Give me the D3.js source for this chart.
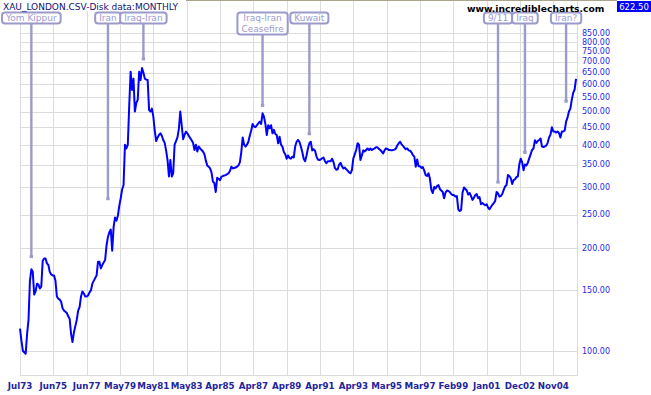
<!DOCTYPE html>
<html><head><meta charset="utf-8">
<script src="https://cdn.jsdelivr.net/npm/d3@7"></script>
<style>body{margin:0;background:#fff}svg{display:block}</style>
</head><body>
<svg id="c" width="651" height="395"></svg>
<script>
// Monthly gold close (XAU London), starting Jul 1973
const startMonth = "1973-07";
const gold = [
  116,107,100,99,98,112,
  123,160,173,170,146,149,157,156,152,154,183,186,
  186,180,178,170,167,166,166,160,144,142,141,139,
  133,131,130,129,126,124,112,106,113,118,123,131,
  134,144,149,147,144,144,145,148,150,157,160,163,
  166,182,182,174,178,181,184,203,215,222,226,196,
  230,245,240,248,265,279,296,305,400,390,400,520,
  654,578,624,500,530,541,654,618,670,650,624,620,
  618,505,500,510,483,440,410,420,427,432,425,413,
  405,385,361,323,361,323,330,400,410,420,445,500,
  456,415,427,437,432,425,418,412,405,386,400,382,
  395,390,386,382,375,360,348,345,341,332,312,309,
  291,320,318,315,322,324,325,326,328,330,335,345,
  341,342,343,345,348,355,380,420,400,395,400,408,
  425,440,460,452,450,456,462,467,460,494,483,460,
  427,456,447,456,432,442,430,427,404,422,400,395,
  381,375,364,372,366,364,369,367,395,408,413,408,
  395,381,364,358,372,390,404,408,385,388,384,370,
  362,361,362,365,367,358,353,358,358,358,364,356,
  342,338,339,350,354,346,341,343,339,336,332,330,
  337,365,375,386,404,400,361,372,385,382,386,390,
  386,390,386,388,390,393,393,389,386,382,377,385,
  390,389,386,386,385,386,387,390,398,404,408,401,
  397,392,388,390,385,384,380,373,369,345,362,346,
  346,342,344,336,326,324,330,318,295,289,301,298,
  303,305,297,294,291,279,290,294,293,291,287,285,
  285,282,283,259,256,258,290,300,297,294,286,289,
  283,276,280,285,287,279,281,268,270,268,266,268,
  262,259,263,267,270,274,291,288,282,283,287,295,
  302,305,326,324,319,307,315,317,322,323,350,364,
  356,337,350,348,354,365,375,386,390,412,405,410,
  413,417,395,394,395,398,405,420,428,450,437,437,
  434,437,433,420,437,437,440,467,480,500,510,541,
  567,580,622.5
];
const xTickLabels = ["Jul73","Jun75","Jun77","May79","May81","May83","Apr85","Apr87","Apr89","Apr91","Apr93","Mar95","Mar97","Feb99","Jan01","Dec02","Nov04"];
const yTicks = [100,150,200,250,300,350,400,450,500,550,600,650,700,750,800,850];
const eventNames = [["Yom Kippur"],["Iran"],["Iraq-Iran"],["Iraq-Iran","Ceasefire"],["Kuwait"],["9/11"],["Iraq"],["Iran?"]];
const eventMonths = ["1974-03","1978-09","1980-10","1987-10","1990-07","2001-08","2003-03","2005-08"];
const eventAnchors = [189,279,715,523,432,312,381,538];
const lastValue = 622.50;
const titleText = "XAU_LONDON.CSV-Disk data:MONTHLY";
const siteText = "www.incrediblecharts.com";

const svg = d3.select("#c");
const FONT = "DejaVu Sans, Verdana, sans-serif";
const monthIdx = s => { const [y,m] = s.split("-").map(Number); const [y0,m0] = startMonth.split("-").map(Number); return (y-y0)*12 + (m-m0); };

const left = 20, right = 577.5, bottom = 375;
const x = d3.scaleLinear().domain([0, 376]).range([20, 553.33]);
const y = d3.scaleLog().domain([100, 850]).range([350.7, 32.7]);
const labelStep = 376 / (xTickLabels.length - 1);

const grid = svg.append("g").attr("stroke", "#dcdcdc").attr("stroke-width", 1).attr("shape-rendering", "crispEdges");
yTicks.forEach(t => grid.append("line").attr("x1", left).attr("x2", right).attr("y1", Math.round(y(t)) + 0.5).attr("y2", Math.round(y(t)) + 0.5));
xTickLabels.forEach((l, i) => { const xx = Math.round(x(i * labelStep)) + 0.5; grid.append("line").attr("x1", xx).attr("x2", xx).attr("y1", 0).attr("y2", bottom); });
grid.append("line").attr("x1", left).attr("x2", right).attr("y1", bottom + 0.5).attr("y2", bottom + 0.5);
grid.append("line").attr("x1", right).attr("x2", right).attr("y1", 0).attr("y2", bottom);
svg.append("line").attr("x1", 186).attr("x2", 617).attr("y1", 0.5).attr("y2", 0.5).attr("stroke", "#aaa58c").attr("stroke-width", 1);

// y axis labels
svg.append("g").selectAll("text").data(yTicks).join("text")
  .attr("x", 582).attr("y", d => y(d)).attr("dy", "0.36em")
  .attr("font-family", FONT).attr("font-size", 8).attr("fill", "#1f1fe6")
  .text(d => d.toFixed(2));

// x axis labels
svg.append("g").selectAll("text").data(xTickLabels).join("text")
  .attr("x", (d, i) => x(i * labelStep)).attr("y", 388.5).attr("text-anchor", "middle")
  .attr("font-family", FONT).attr("font-weight", "bold").attr("font-size", 8.7).attr("fill", "#24249c")
  .text(d => d);

// price line
svg.append("path").datum(gold)
  .attr("fill", "none").attr("stroke", "#0000ff").attr("stroke-width", 2).attr("stroke-linejoin", "round")
  .attr("d", d3.line().x((d, i) => x(i)).y(d => y(d)));

// annotations
const ANN = "#9a9acb";
const ag = svg.append("g");
eventNames.forEach((lines, k) => {
  const cx = x(monthIdx(eventMonths[k]));
  const top = 12.5, h = lines.length === 1 ? 11 : 22;
  ag.append("line").attr("x1", cx).attr("x2", cx).attr("y1", top + h).attr("y2", y(eventAnchors[k]))
    .attr("stroke", ANN).attr("stroke-width", 2.4);
  ag.append("rect").attr("x", cx - 1.7).attr("y", y(eventAnchors[k]) - 1).attr("width", 3.4).attr("height", 3).attr("fill", ANN);
  const g = ag.append("g");
  const rect = g.append("rect");
  let w = 0;
  lines.forEach((t, j) => {
    const tx = g.append("text").attr("x", cx).attr("y", 21 + j * 11).attr("text-anchor", "middle")
      .attr("font-family", FONT).attr("font-size", 9).attr("fill", "#9c9cd2").text(t);
    w = Math.max(w, tx.node().getComputedTextLength());
  });
  rect.attr("x", cx - w / 2 - 4).attr("y", top).attr("width", w + 8).attr("height", h)
    .attr("rx", 3).attr("fill", "#fff").attr("stroke", ANN).attr("stroke-width", 2);
});

// header texts
svg.append("rect").attr("x", 0).attr("y", 0).attr("width", 186).attr("height", 11).attr("fill", "#fff");
svg.append("text").attr("x", 3).attr("y", 10).attr("font-family", FONT).attr("font-size", 9).attr("fill", "#12127a").text(titleText);
svg.append("text").attr("x", 467).attr("y", 11.5).attr("font-family", FONT).attr("font-weight", "bold").attr("font-size", 9.2).attr("fill", "#000").text(siteText);
svg.append("rect").attr("x", 617).attr("y", 1).attr("width", 34).attr("height", 11).attr("fill", "#0000ff");
svg.append("text").attr("x", 634).attr("y", 9.8).attr("text-anchor", "middle").attr("font-family", FONT).attr("font-size", 8.5).attr("fill", "#fff").text(lastValue.toFixed(2));
</script>
</body></html>
